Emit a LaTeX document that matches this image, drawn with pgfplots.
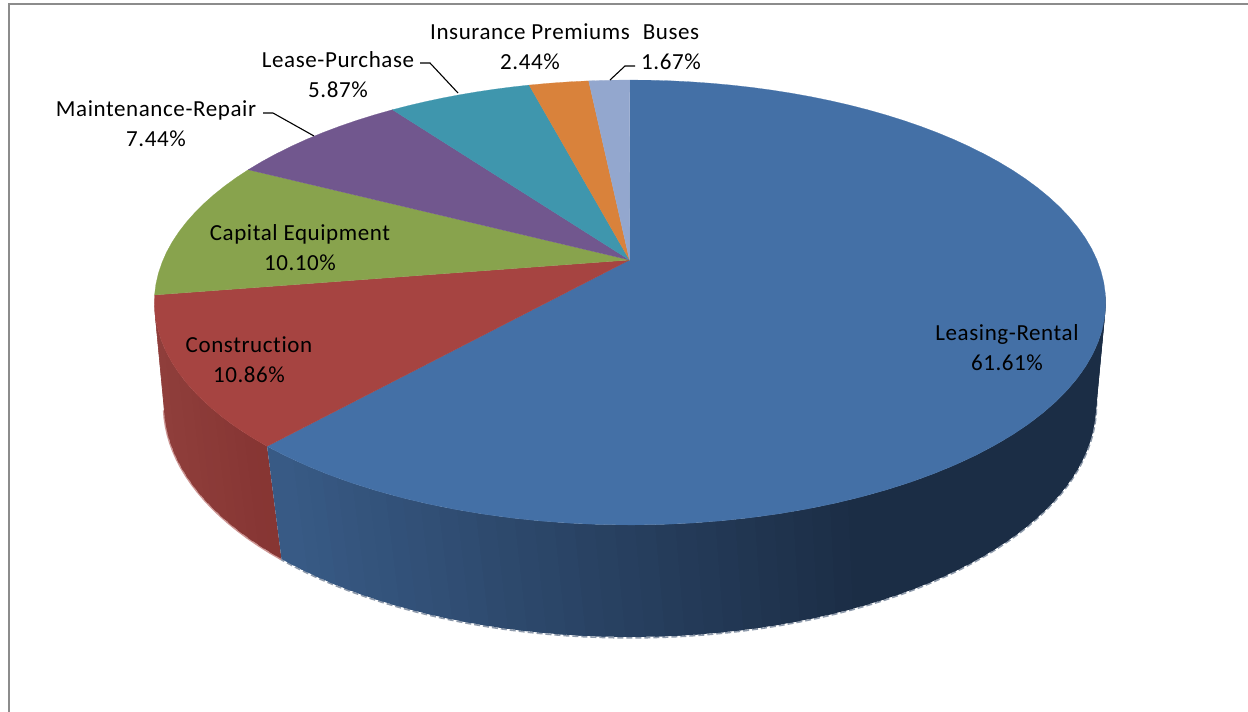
\documentclass[border=0pt]{standalone}
\usepackage{pgfplots}
\usepackage{pgfplotstable}
\usepackage{fontspec}
\setmainfont[LetterSpace=2.6,Ligatures=NoCommon]{Carlito}
\pgfplotsset{compat=1.18}

% Budget shares in percent, clockwise from twelve o'clock
\pgfplotstableread{
share
61.61
10.86
10.10
7.44
5.87
2.44
1.67
}\sharestable

\definecolor{cLeasing}{HTML}{4470A6}
\definecolor{cConstruction}{HTML}{A64441}
\definecolor{cCapital}{HTML}{88A34D}
\definecolor{cMaintenance}{HTML}{71578E}
\definecolor{cLease}{HTML}{3F96AD}
\definecolor{cInsurance}{HTML}{D9823B}
\definecolor{cBuses}{HTML}{93A7CE}
\definecolor{frameGrey}{HTML}{8C8C8C}

% Perspective view of the pie's upper disc: angle #1 (degrees clockwise from the top)
\newcommand\topx[1]{\pgfmathsetmacro\Tc{1+0.191*cos(#1)}\pgfmathsetmacro\TX{630+467*sin(#1)/\Tc}\pgfmathsetmacro\TY{(260-164.7*cos(#1))/\Tc}}
% The matching point on the lower rim
\newcommand\lowx[1]{\topx{#1}\pgfmathsetmacro\Tt{1.3+atan2((302.5-\TY)/222.5,(\TX-630)/476)}\pgfmathsetmacro\BX{630+466*cos(\Tt)}\pgfmathsetmacro\BY{405-232*sin(\Tt)}}

% One wedge of the upper disc, from angle #1 to angle #2
\newcommand\wedgeplot[3]{%
  \gdef\pts{(629.5,260)}%
  \pgfmathsetmacro\stp{(#2-#1)/max(2,ceil((#2-#1)/3))}%
  \pgfmathsetmacro\nst{round((#2-#1)/\stp)}%
  \foreach \k in {0,...,\nst}{%
    \pgfmathsetmacro\ang{#1+\k*\stp}%
    \topx{\ang}%
    \xdef\pts{\pts (\TX,\TY)}%
  }%
  \edef\tmp{\noexpand\addplot[fill=#3,draw=#3,line width=0.2pt] coordinates {\pts} -- cycle;}%
  \tmp
}

% Pale fringe just outside the lower rim between angles #1 and #2
\newcommand\rimplot[3]{%
  \gdef\pts{}%
  \pgfmathsetmacro\nst{round(abs(#2-#1)/2)}%
  \pgfmathsetmacro\stp{(#2-#1)/\nst}%
  \foreach \k in {0,...,\nst}{%
    \pgfmathsetmacro\ang{#1+\k*\stp}%
    \lowx{\ang}%
    \pgfmathsetmacro\rx{\BX+0.6*cos(\Tt)}%
    \pgfmathsetmacro\ry{\BY-0.9*sin(\Tt)}%
    \xdef\pts{\pts (\rx,\ry)}%
  }%
  \edef\tmp{\noexpand\addplot[#3] coordinates {\pts};}%
  \tmp
}

% Outer wall between angles #1 and #2, cut into overlapping flat strips shaded by position
\newcommand\wallplot[8]{%
  \pgfmathsetmacro\nst{round(abs(#2-#1)/#3)}%
  \pgfmathsetmacro\stp{(#2-#1)/\nst}%
  \pgfmathtruncatemacro\nlast{\nst-1}%
  \foreach \k in {0,...,\nlast}{%
    \pgfmathsetmacro\angA{#1+\k*\stp}%
    \pgfmathsetmacro\angB{#1+min(\k+1.5,\nst)*\stp}%
    \lowx{\angA}\let\xa\TX\let\ya\TY\let\ua\BX\let\va\BY
    \lowx{\angB}\let\xb\TX\let\yb\TY\let\ub\BX\let\vb\BY
    \pgfmathsetmacro\ff{min(1,max(0,((\xa+\xb)/2-#4)/(#5-#4)))}%
    \pgfmathsetmacro\R{(#6)/255}%
    \pgfmathsetmacro\G{(#7)/255}%
    \pgfmathsetmacro\B{(#8)/255}%
    \edef\tmp{\noexpand\addplot[fill={rgb,1:red,\R;green,\G;blue,\B},draw=none] coordinates {(\xa,\ya) (\xb,\yb) (\ub,\vb) (\ua,\va)} -- cycle;}%
    \tmp
  }%
}

\begin{document}
\begin{tikzpicture}
\begin{axis}[
  at={(0,0)},anchor=south west,
  width=1248pt,height=712pt,scale only axis,
  xmin=0,xmax=1248,ymin=0,ymax=712,y dir=reverse,
  hide axis,clip=true,
  every axis plot/.append style={no markers},
]
% chart frame: top and left edges
\addplot[frameGrey,line width=2pt] coordinates {(8.5,712) (8.5,3.5) (1248,3.5)};

% rim fringe, outer wall (first the right-hand blue sweep, drawn back to front), upper disc
\rimplot{99}{221.8}{color={rgb,255:red,142;green,154;blue,171},line width=1.6pt,dash pattern=on 6pt off 3pt}
\rimplot{259}{221.8}{color={rgb,255:red,205;green,150;blue,148},line width=1.4pt}
\wallplot{259}{221.8}{2}{160}{280}{143-\ff*10}{62-\ff*10}{59-\ff*9}
\wallplot{99}{221.8}{2}{850}{280}{27+\ff*29}{45+\ff*45}{69+\ff*64}

\xdef\cum{0}
\foreach \i/\col in {0/cLeasing,1/cConstruction,2/cCapital,3/cMaintenance,4/cLease,5/cInsurance,6/cBuses}{%
  \pgfplotstablegetelem{\i}{share}\of\sharestable
  \pgfmathsetmacro\aFrom{\cum*3.6}%
  \pgfmathsetmacro\aTo{(\cum+\pgfplotsretval)*3.6}%
  \pgfmathsetmacro\newcum{\cum+\pgfplotsretval}%
  \xdef\cum{\newcum}%
  \wedgeplot{\aFrom}{\aTo}{\col}%
}

% leader lines
\addplot[black,line width=1.1pt] coordinates {(263,113) (273,113) (314,136)};
\addplot[black,line width=1.1pt] coordinates {(420,63) (430,63) (458,93)};
\addplot[black,line width=1.1pt] coordinates {(635,66) (625,66) (610,80)};

% labels
\tikzset{lab/.style={font=\fontsize{23}{30}\selectfont,align=center,anchor=center,inner sep=0pt}}
\node[lab] at (axis cs:156,124) {Maintenance-Repair\\7.44\%};
\node[lab] at (axis cs:338,75) {Lease-Purchase\\5.87\%};
\node[lab] at (axis cs:530,47) {Insurance Premiums\\2.44\%};
\node[lab] at (axis cs:671,47) {Buses\\1.67\%};
\node[lab] at (axis cs:300,248) {Capital Equipment\\10.10\%};
\node[lab] at (axis cs:249,360) {Construction\\10.86\%};
\node[lab] at (axis cs:1007,348) {Leasing-Rental\\61.61\%};
\end{axis}
\pgfresetboundingbox
\path[use as bounding box] (0,0) rectangle (1248pt,712pt);
\end{tikzpicture}
\end{document}
